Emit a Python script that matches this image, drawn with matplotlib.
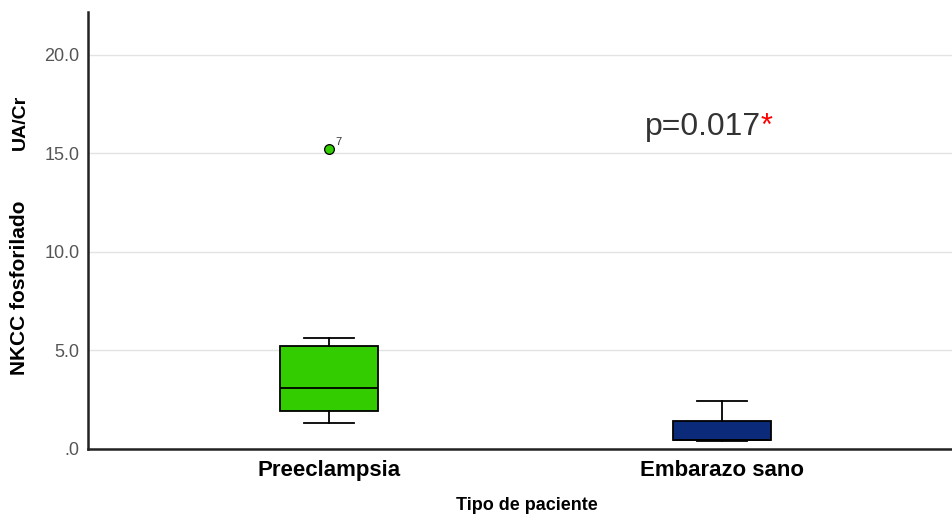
import matplotlib
matplotlib.use("Agg")
import matplotlib.pyplot as plt

# values
groups = ["Preeclampsia", "Embarazo sano"]
q1 = [1.93, 0.45]
medians = [3.10, 0.48]
q3 = [5.23, 1.42]
whisker_low = [1.32, 0.40]
whisker_high = [5.63, 2.44]
outliers = [[15.23], []]
outlier_ids = [["7"], []]
box_colors = ["#33cc00", "#0c2a7a"]
y_ticks = [0, 5, 10, 15, 20]
y_tick_labels = [".0", "5.0", "10.0", "15.0", "20.0"]
p_text = "p=0.017"

plt.rcParams["font.family"] = ["Liberation Sans", "DejaVu Sans"]

fig = plt.figure(figsize=(9.52, 5.19), dpi=100)
ax = fig.add_axes([0.0924, 0.1349, 0.9076, 0.842])

positions = [1, 2]
stats = []
for i, name in enumerate(groups):
    stats.append({
        "label": name,
        "q1": q1[i], "med": medians[i], "q3": q3[i],
        "whislo": whisker_low[i], "whishi": whisker_high[i],
        "fliers": outliers[i],
    })

bp = ax.bxp(
    stats, positions=positions, widths=0.25, patch_artist=True,
    boxprops=dict(edgecolor="black", linewidth=1.3),
    medianprops=dict(color="black", linewidth=1.3),
    whiskerprops=dict(color="black", linewidth=1.3),
    capprops=dict(color="black", linewidth=1.3),
    flierprops=dict(marker="o", markersize=7, markeredgecolor="black",
                    markeredgewidth=0.9),
    capwidths=0.127,
)
for patch, color in zip(bp["boxes"], box_colors):
    patch.set_facecolor(color)
for flier, color in zip(bp["fliers"], box_colors):
    flier.set_markerfacecolor(color)

# case number next to the outlier
for pos, vals, ids in zip(positions, outliers, outlier_ids):
    for v, label in zip(vals, ids):
        ax.annotate(label, (pos, v), xytext=(5, 3), textcoords="offset points",
                    fontsize=8, color="#333333")

ax.set_xlim(0.387, 2.585)
ax.set_ylim(0, 22.18)
ax.set_yticks(y_ticks)
ax.set_yticklabels(y_tick_labels, fontsize=13, color="#555555")
ax.set_xticks(positions)
ax.set_xticklabels(groups, fontsize=16, fontweight="bold")
ax.tick_params(axis="both", length=0)
ax.tick_params(axis="y", pad=6)
ax.tick_params(axis="x", pad=8)

ax.yaxis.grid(True, color="#e3e3e3", linewidth=1)
ax.set_axisbelow(True)
for side in ["top", "right"]:
    ax.spines[side].set_visible(False)
for side in ["left", "bottom"]:
    ax.spines[side].set_linewidth(1.8)
    ax.spines[side].set_color("#222222")

# x title sits a little right of the axes centre in the original
fig.text(527 / 952, 1 - 506 / 519, "Tipo de paciente", fontsize=13,
         fontweight="bold", ha="center", va="center")

# y title is split in two pieces, as in the original
fig.text(20 / 952, 1 - 287.5 / 519, "NKCC fosforilado", rotation=90,
         fontsize=15, fontweight="bold", ha="center", va="center")
fig.text(20 / 952, 1 - 122.5 / 519, "UA/Cr", rotation=90,
         fontsize=14, fontweight="bold", ha="center", va="center")

txt = ax.text(1.805, 16.35, p_text, fontsize=23, color="#333333",
              va="center", ha="left")
ax.annotate("*", xycoords=txt, xy=(1, 0.5), xytext=(-1, 0),
            textcoords="offset points", fontsize=22, color="red",
            va="center", ha="left")

fig.savefig("out.png", dpi=100)
